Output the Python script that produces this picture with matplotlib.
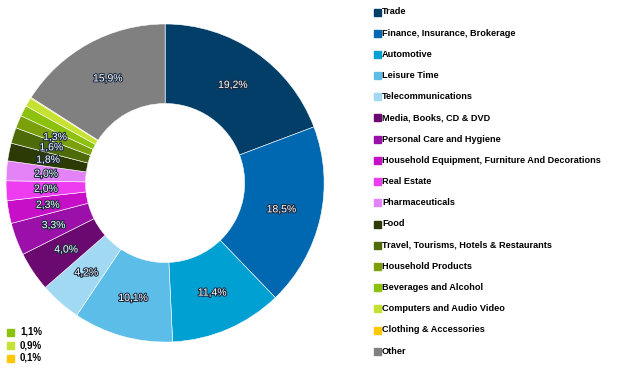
import matplotlib.pyplot as plt
import matplotlib.patheffects as pe

categories = ["Trade", "Finance, Insurance, Brokerage", "Automotive", "Leisure Time",
              "Telecommunications", "Media, Books, CD & DVD", "Personal Care and Hygiene",
              "Household Equipment, Furniture And Decorations", "Real Estate",
              "Pharmaceuticals", "Food", "Travel, Tourisms, Hotels & Restaurants",
              "Household Products", "Beverages and Alcohol", "Computers and Audio Video",
              "Clothing & Accessories", "Other"]
values = [19.2, 18.5, 11.4, 10.1, 4.2, 4.0, 3.3, 2.3, 2.0, 2.0, 1.8, 1.6, 1.3, 1.1, 0.9, 0.1, 15.9]
colors = ["#033e69", "#0068b0", "#00a0d2", "#5bbde8", "#a1d9f3", "#6a0a70", "#9a10a8",
          "#c60fc7", "#ee3cf0", "#e383f7", "#2c3a05", "#4e6b0a", "#7ba00c", "#8cc10e",
          "#c5e232", "#ffc800", "#808080"]
small_idx = [13, 14, 15]  # slices shown in the side key instead of on the ring

fig = plt.figure(figsize=(6.24, 3.69), dpi=100)
ax = fig.add_axes([0.0096, 0.073, 0.51, 0.862])

def fmt(v):
    return f"{v:.1f}%".replace(".", ",")

labels = ["" if i in small_idx else fmt(v) for i, v in enumerate(values)]
wedges, texts = ax.pie(values, colors=colors, startangle=90, counterclock=False,
                       labels=labels, labeldistance=0.75,
                       wedgeprops=dict(width=0.5, edgecolor="white", linewidth=0.4),
                       textprops=dict(color="white", fontsize=7.5, family="Liberation Sans",
                                      ha="center", va="center"))
for t in texts:
    t.set_path_effects([pe.withStroke(linewidth=1.5, foreground="#1a2a40")])
ax.set_xlim(-1, 1)
ax.set_ylim(-1, 1)
ax.set_aspect("equal")
ax.set_axis_off()

# legend on the right
y0, dy = 12, 21.2
for i, name in enumerate(categories):
    y = 1 - (y0 + i * dy) / 369
    fig.patches.append(plt.Rectangle((374 / 624, y - 3.5 / 369), 7 / 624, 7 / 369,
                                     color=colors[i], transform=fig.transFigure))
    fig.text(382 / 624, y, name, fontsize=6.6, fontweight="bold", va="center",
             family="Liberation Sans", color="black")

# small key bottom-left
for k, i in enumerate(small_idx):
    y = 1 - (332 + k * 13) / 369
    fig.patches.append(plt.Rectangle((7 / 624, y - 3.5 / 369), 7 / 624, 7 / 369,
                                     color=colors[i], transform=fig.transFigure))
    fig.text(20 / 624, y, fmt(values[i]), fontsize=7, fontweight="bold", va="center",
             family="Liberation Sans", color="black")

plt.savefig("out.png", dpi=100, facecolor="white")
plt.close()
